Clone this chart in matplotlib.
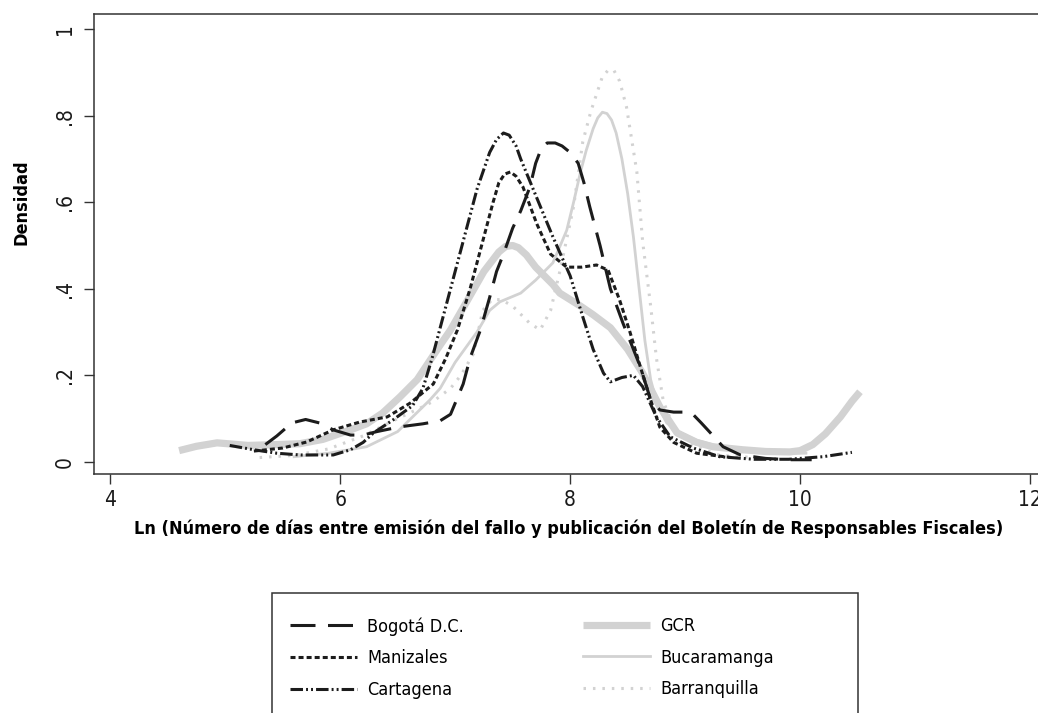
"""
Densidad de kernel: Ln(días entre fallo y publicación en el Boletín de
Responsables Fiscales), por gerencia colegiada.
"""

import matplotlib
matplotlib.use("Agg")
import matplotlib.pyplot as plt
from matplotlib import font_manager
from matplotlib.lines import Line2D
from matplotlib.patches import Rectangle

# fuente angosta si existe; si no, una sans normal un poco más pequeña
_fonts = font_manager.fontManager.ttflist
_names = {f.name for f in _fonts}
if "Liberation Sans Narrow" in _names:
    plt.rcParams["font.family"] = ["Liberation Sans Narrow", "DejaVu Sans"]
    FS = 1.12
elif any(f.name == "DejaVu Sans" and f.stretch == "condensed" for f in _fonts):
    plt.rcParams["font.family"] = ["DejaVu Sans"]
    plt.rcParams["font.stretch"] = "condensed"
    FS = 1.0
else:
    plt.rcParams["font.family"] = ["Liberation Sans", "DejaVu Sans"]
    FS = 0.9
plt.rcParams["lines.scale_dashes"] = False

W, H = 1038, 713

# --- datos (densidad estimada) ---
bogota_x = [5.35, 5.45, 5.58, 5.7, 5.82, 5.94, 6.09, 6.2, 6.32, 6.52, 6.72,
            6.87, 6.96, 7.07, 7.13, 7.22, 7.30, 7.36, 7.42, 7.50, 7.57, 7.65,
            7.70, 7.75, 7.80, 7.87, 7.93, 8.00, 8.07, 8.12, 8.17, 8.26, 8.35,
            8.46, 8.61, 8.70, 8.78, 8.90, 9.00, 9.06, 9.14, 9.22, 9.33, 9.48,
            9.70, 9.90, 10.1]
bogota_y = [0.04, 0.06, 0.09, 0.098, 0.09, 0.074, 0.062, 0.062, 0.07, 0.081,
            0.088, 0.095, 0.11, 0.18, 0.24, 0.305, 0.38, 0.44, 0.48, 0.54,
            0.58, 0.635, 0.69, 0.725, 0.737, 0.737, 0.73, 0.715, 0.69, 0.645,
            0.59, 0.50, 0.40, 0.32, 0.22, 0.143, 0.12, 0.115, 0.115, 0.112,
            0.09, 0.067, 0.035, 0.016, 0.008, 0.005, 0.005]

manizales_x = [5.25, 5.5, 5.71, 5.94, 6.17, 6.41, 6.61, 6.81, 6.92, 7.02,
               7.13, 7.22, 7.33, 7.38, 7.43, 7.48, 7.53, 7.59, 7.71, 7.83,
               7.97, 8.10, 8.23, 8.33, 8.43, 8.52, 8.61, 8.70, 8.78, 8.90,
               9.10, 9.40]
manizales_y = [0.025, 0.032, 0.046, 0.074, 0.092, 0.104, 0.136, 0.18, 0.24,
               0.305, 0.40, 0.49, 0.60, 0.645, 0.665, 0.67, 0.66, 0.635, 0.55,
               0.48, 0.45, 0.45, 0.455, 0.443, 0.374, 0.30, 0.22, 0.143, 0.08,
               0.045, 0.02, 0.01]

cartagena_x = [5.04, 5.25, 5.45, 5.65, 5.94, 6.09, 6.20, 6.29, 6.46, 6.63,
               6.72, 6.80, 6.88, 6.96, 7.07, 7.19, 7.30, 7.36, 7.42, 7.47,
               7.53, 7.57, 7.71, 7.85, 8.00, 8.11, 8.20, 8.29, 8.35, 8.45,
               8.55, 8.63, 8.75, 8.87, 9.07, 9.30, 9.60, 9.90, 10.2, 10.45]
cartagena_y = [0.038, 0.028, 0.02, 0.016, 0.016, 0.028, 0.045, 0.067, 0.097,
               0.13, 0.17, 0.24, 0.32, 0.40, 0.51, 0.63, 0.715, 0.745, 0.76,
               0.755, 0.73, 0.70, 0.61, 0.52, 0.43, 0.335, 0.26, 0.205, 0.185,
               0.195, 0.20, 0.174, 0.104, 0.058, 0.032, 0.012, 0.006, 0.006,
               0.012, 0.022]

gcr_x = [4.6, 4.75, 4.93, 5.2, 5.45, 5.65, 5.85, 6.09, 6.23, 6.37, 6.52,
         6.67, 6.87, 6.96, 7.1, 7.25, 7.38, 7.44, 7.50, 7.55, 7.62, 7.7, 7.85,
         7.91, 8.09, 8.2, 8.35, 8.5, 8.63, 8.78, 8.93, 9.1, 9.24, 9.5, 9.7,
         9.91, 10.0, 10.11, 10.22, 10.35, 10.45, 10.52]
gcr_y = [0.026, 0.036, 0.044, 0.038, 0.04, 0.042, 0.052, 0.074, 0.088,
         0.113, 0.15, 0.19, 0.27, 0.305, 0.37, 0.44, 0.485, 0.498, 0.50,
         0.495, 0.478, 0.45, 0.41, 0.39, 0.36, 0.34, 0.31, 0.26, 0.205, 0.127,
         0.067, 0.045, 0.035, 0.028, 0.024, 0.023, 0.026, 0.04, 0.065, 0.104,
         0.14, 0.162]

bucaramanga_x = [5.6, 5.9, 6.23, 6.5, 6.78, 6.87, 7.0, 7.19, 7.30, 7.39,
                 7.57, 7.70, 7.85, 7.97, 8.03, 8.09, 8.14, 8.20, 8.24, 8.28,
                 8.32, 8.36, 8.40, 8.45, 8.50, 8.55, 8.60, 8.65, 8.70, 8.76,
                 8.84, 8.95, 9.1, 9.3, 9.5, 9.8, 10.05]
bucaramanga_y = [0.012, 0.02, 0.035, 0.07, 0.143, 0.17, 0.23, 0.30, 0.35,
                 0.37, 0.39, 0.42, 0.46, 0.535, 0.60, 0.67, 0.72, 0.77, 0.795,
                 0.808, 0.805, 0.79, 0.76, 0.70, 0.62, 0.52, 0.40, 0.28, 0.19,
                 0.13, 0.09, 0.068, 0.05, 0.035, 0.025, 0.02, 0.02]

barranquilla_x = [5.3, 5.6, 5.9, 6.2, 6.5, 6.7, 6.81, 6.96, 7.05, 7.16, 7.24,
                  7.32, 7.40, 7.50, 7.65, 7.74, 7.83, 7.91, 8.03, 8.11, 8.18,
                  8.23, 8.28, 8.33, 8.38, 8.43, 8.49, 8.58, 8.63, 8.70, 8.75,
                  8.81, 8.90, 9.05, 9.30, 9.60]
barranquilla_y = [0.01, 0.015, 0.03, 0.06, 0.10, 0.125, 0.14, 0.17, 0.20,
                  0.25, 0.35, 0.375, 0.375, 0.36, 0.32, 0.305, 0.35, 0.44,
                  0.59, 0.74, 0.81, 0.85, 0.89, 0.905, 0.905, 0.88, 0.82,
                  0.67, 0.51, 0.36, 0.24, 0.14, 0.08, 0.04, 0.015, 0.01]

x_ticks = [4, 6, 8, 10, 12]
y_ticks = [0, 0.2, 0.4, 0.6, 0.8, 1.0]
y_tick_labels = ["0", ".2", ".4", ".6", ".8", "1"]

BLACK = "#1c1c1c"
GRAY = "#d2d2d2"

series = [
    ("Bogotá D.C.", bogota_x, bogota_y,
     dict(color=BLACK, lw=2.2, dashes=(18, 9))),
    ("Manizales", manizales_x, manizales_y,
     dict(color=BLACK, lw=2.2, dashes=(3.6, 2.2))),
    ("Cartagena", cartagena_x, cartagena_y,
     dict(color=BLACK, lw=2.2, dashes=(9, 2.2, 1.4, 2.2, 1.4, 2.2))),
    ("GCR", gcr_x, gcr_y,
     dict(color=GRAY, lw=5.2, solid_capstyle="butt")),
    ("Bucaramanga", bucaramanga_x, bucaramanga_y,
     dict(color=GRAY, lw=2.0)),
    ("Barranquilla", barranquilla_x, barranquilla_y,
     dict(color=GRAY, lw=2.2, dashes=(1.8, 5.0))),
]

fig = plt.figure(figsize=(W / 100, H / 100), dpi=100)
ax_left, ax_right = 94, 1044
ax = fig.add_axes([ax_left / W, 1 - 474 / H, (ax_right - ax_left) / W,
                   (474 - 14) / H])

# las grises primero para que las negras queden encima
for name, xs, ys, kw in series[3:] + series[:3]:
    ax.plot(xs, ys, **kw)

ax.set_xlim(3.86, 12.12)
ax.set_ylim(-0.028, 1.035)
ax.set_xticks(x_ticks)
ax.set_yticks(y_ticks)
ax.set_yticklabels(y_tick_labels, rotation=90, va="center")
ax.tick_params(direction="out", length=7.5, width=1.0, colors="#333333",
               labelsize=15 * FS, labelcolor="#1a1a1a")
ax.tick_params(axis="y", pad=6)
ax.tick_params(axis="x", pad=4)
for sp in ax.spines.values():
    sp.set_linewidth(1.1)
    sp.set_color("#333333")

ax.set_ylabel("Densidad", fontsize=13 * FS, fontweight="bold", va="center")
# a la altura de .6, a 22 px del borde izquierdo
ax.yaxis.set_label_coords((22 - ax_left) / (ax_right - ax_left),
                          (0.6 + 0.028) / 1.063)
ax.set_xlabel("Ln (Número de días entre emisión del fallo y publicación "
              "del Boletín de Responsables Fiscales)",
              fontsize=13 * FS, fontweight="bold", labelpad=7)

# leyenda: marco propio, recortado por el borde inferior
box = Rectangle((272 / W, 1 - 720 / H), (858 - 272) / W, (720 - 593) / H,
                transform=fig.transFigure, fill=False, lw=1.1,
                edgecolor="#333333", clip_on=False)
fig.add_artist(box)

leg_fs = 13 * FS
em_px = leg_fs * 100 / 72
cols = [(290, series[:3]), (583, series[3:])]
for x0, group in cols:
    fig.legend([Line2D([], [], **kw) for _, _, _, kw in group],
               [name for name, _, _, _ in group],
               loc="upper left", bbox_to_anchor=(x0 / W, 1 - 617 / H),
               frameon=False, fontsize=leg_fs,
               handlelength=67 / em_px, handletextpad=10 / em_px,
               labelspacing=0.76, borderpad=0, borderaxespad=0)

fig.savefig("out.png", dpi=100, facecolor="white")
